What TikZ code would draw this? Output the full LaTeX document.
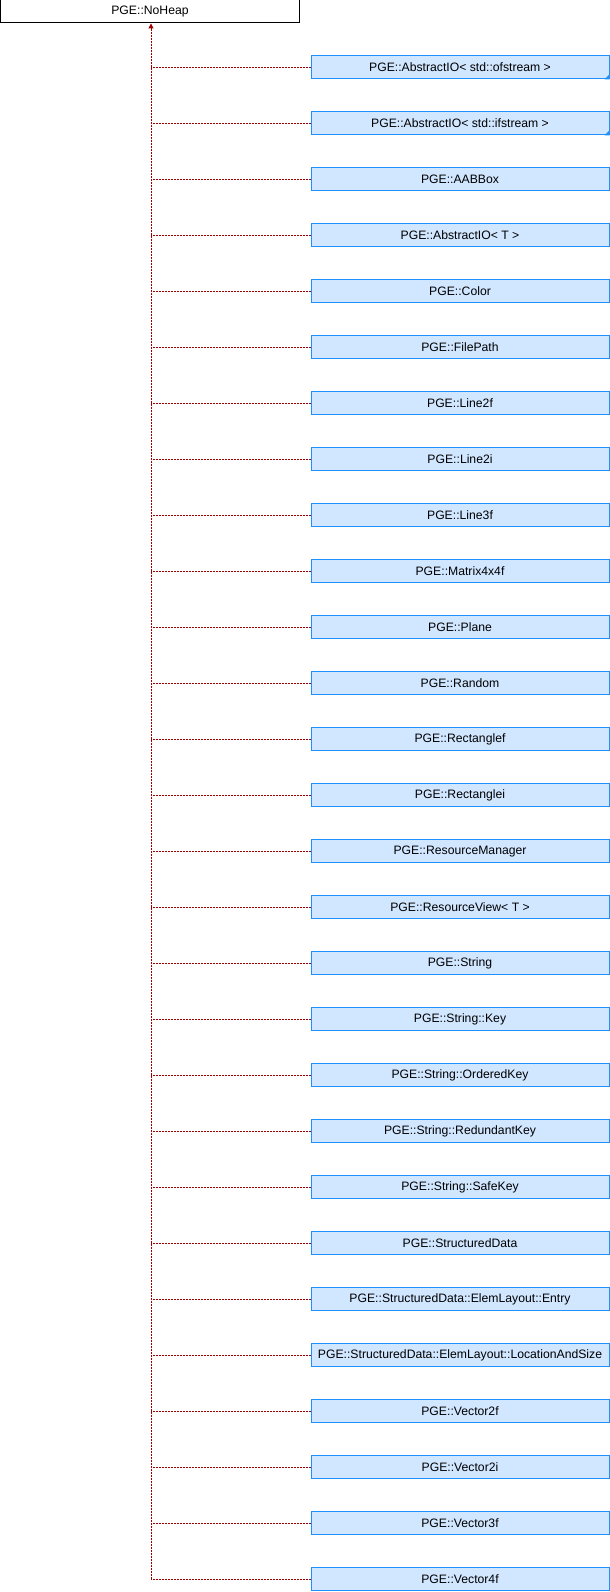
\documentclass[tikz,border=0pt]{standalone}
\usepackage{fontspec}
\setmainfont{Liberation Sans}
\usetikzlibrary{arrows.meta}
\definecolor{boxfill}{RGB}{209,230,255}
\definecolor{boxline}{RGB}{30,144,255}
\definecolor{edgered}{RGB}{153,0,0}
\tikzset{
  base/.style={draw=black, fill=white, line width=1pt, inner sep=0pt,
    minimum width=299pt, minimum height=23pt, font=\fontsize{12.2}{14}\selectfont},
  cls/.style={draw=boxline, fill=boxfill, line width=1pt, inner sep=0pt,
    minimum width=298pt, minimum height=23pt, font=\fontsize{12.2}{14}\selectfont},
  inh/.style={draw=edgered, line width=1pt, dash pattern=on 2pt off 1pt},
  inharrow/.style={inh, -{Triangle[width=5pt,length=5pt]}},
  cut/.style={fill=boxline},
}
\begin{document}
\begin{tikzpicture}[x=1pt,y=1pt]
\useasboundingbox (0,0) rectangle (610,1592);
% base class
\node[base] (noheap) at (150,1580.5) {PGE::NoHeap};
% derived classes, one row every 56pt
\foreach \t [count=\i] in {
  {PGE::AbstractIO< std::ofstream >},
  {PGE::AbstractIO< std::ifstream >},
  {PGE::AABBox},
  {PGE::AbstractIO< T >},
  {PGE::Color},
  {PGE::FilePath},
  {PGE::Line2f},
  {PGE::Line2i},
  {PGE::Line3f},
  {PGE::Matrix4x4f},
  {PGE::Plane},
  {PGE::Random},
  {PGE::Rectanglef},
  {PGE::Rectanglei},
  {PGE::ResourceManager},
  {PGE::ResourceView< T >},
  {PGE::String},
  {PGE::String::Key},
  {PGE::String::OrderedKey},
  {PGE::String::RedundantKey},
  {PGE::String::SafeKey},
  {PGE::StructuredData},
  {PGE::StructuredData::ElemLayout::Entry},
  {PGE::StructuredData::ElemLayout::LocationAndSize},
  {PGE::Vector2f},
  {PGE::Vector2i},
  {PGE::Vector3f},
  {PGE::Vector4f}} {
  \node[cls] (b\i) at (460,{1592-67.5-56*(\i-1)}) {\t};
}
% truncation marks on the template instances
\foreach \i in {1,2} {
  \fill[cut] (b\i.south east) -- ++(-5,0) -- ++(5,5) -- cycle;
}
% inheritance trunk
\coordinate (trunk) at (151,{1592-67.5-56*27});
\draw[inharrow] (trunk) -- (noheap.south -| trunk);
\foreach \i in {1,...,28} {
  \draw[inh] (b\i.west) -- (b\i.west -| trunk);
}
\end{tikzpicture}
\end{document}
